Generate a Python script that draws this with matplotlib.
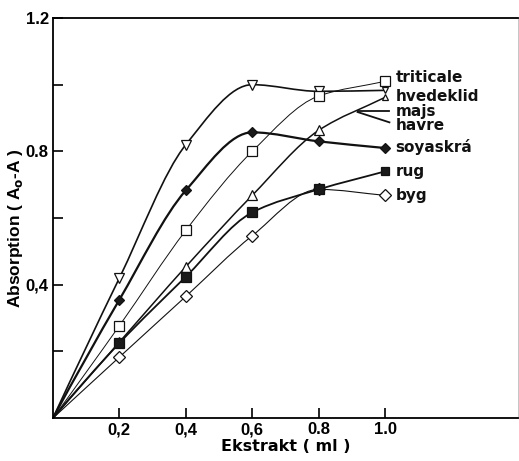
import numpy as np
import matplotlib.pyplot as plt
from matplotlib.path import Path
from matplotlib.patches import PathPatch

# values (x in ml, y = absorption)
x_ml = [0.2, 0.4, 0.6, 0.8, 1.0]
hvedeklid = [0.42, 0.82, 1.00, 0.98, 0.983]   # open triangle down
triticale = [0.277, 0.563, 0.80, 0.966, 1.01]  # open square
soyaskra = [0.355, 0.683, 0.857, 0.83, 0.81]   # filled diamond
majs_havre = [0.228, 0.454, 0.668, 0.863, 0.962]  # open triangle up
rug = [0.225, 0.424, 0.617, 0.686, 0.74]        # filled square
byg = [0.183, 0.365, 0.547, 0.686, 0.668]       # open diamond

xtick_labels = ['0,2', '0,4', '0,6', '0.8', '1.0']
ytick_labels = ['0,4', '0.8', '1.2']

plt.rcParams['font.family'] = ['Liberation Sans', 'DejaVu Sans']


def smooth_path(xs, ys):
    # monotone (pchip style) cubic through the points, starting at the origin
    x = np.array([0.0] + list(xs))
    y = np.array([0.0] + list(ys))
    h = np.diff(x)
    d = np.diff(y) / h
    m = np.zeros_like(y)
    for k in range(1, len(x) - 1):
        if d[k - 1] * d[k] > 0:
            w1 = 2 * h[k] + h[k - 1]
            w2 = h[k] + 2 * h[k - 1]
            m[k] = (w1 + w2) / (w1 / d[k - 1] + w2 / d[k])
    m[0] = ((2 * h[0] + h[1]) * d[0] - h[0] * d[1]) / (h[0] + h[1])
    if np.sign(m[0]) != np.sign(d[0]):
        m[0] = 0
    m[-1] = d[-1]
    verts = [(x[0], y[0])]
    codes = [Path.MOVETO]
    for k in range(len(x) - 1):
        verts += [(x[k] + h[k] / 3, y[k] + m[k] * h[k] / 3),
                  (x[k + 1] - h[k] / 3, y[k + 1] - m[k + 1] * h[k] / 3),
                  (x[k + 1], y[k + 1])]
        codes += [Path.CURVE4] * 3
    return Path(verts, codes)


fig = plt.figure(figsize=(5.19, 4.61), dpi=100)
ax = fig.add_axes([0.102, 0.093, 0.896, 0.868])

# (values, marker, face, line width, marker size, marker size at 1.0, zorder)
series = [
    (hvedeklid, 'v', 'white', 1.2, 7.5, 5, 3),
    (triticale, 's', 'white', 0.7, 7.5, 6.5, 3),
    (soyaskra, 'D', '#1a1a1a', 1.6, 5.5, 5.5, 3),
    (majs_havre, '^', 'white', 1.1, 7.5, 5, 3),
    (byg, 'D', 'white', 0.8, 6.5, 6.5, 3),
    (rug, 's', '#1a1a1a', 1.3, 6.5, 6, 4),
]

for ys, mk, fc, lw, ms, ms_end, z in series:
    ax.add_patch(PathPatch(smooth_path(x_ml, ys), fill=False, ec='#111111', lw=lw, zorder=2))
    ax.plot(x_ml[:-1], ys[:-1], ls='none', marker=mk, ms=ms, mfc=fc, mec='#111111', mew=0.9, zorder=z)
    ax.plot(x_ml[-1:], ys[-1:], ls='none', marker=mk, ms=ms_end, mfc=fc, mec='#111111', mew=0.9, zorder=z)

# curve labels
lab_kw = dict(fontsize=11, fontweight='bold', va='center', ha='left', color='#111111',
              family='DejaVu Sans')
ax.text(1.032, 1.022, 'triticale', **lab_kw)
ax.text(1.032, 0.966, 'hvedeklid', **lab_kw)
ax.text(1.032, 0.92, 'majs', **lab_kw)
ax.text(1.032, 0.878, 'havre', **lab_kw)
ax.text(1.032, 0.812, 'soyaskrá', **lab_kw)
ax.text(1.032, 0.74, 'rug', **lab_kw)
ax.text(1.032, 0.668, 'byg', **lab_kw)
ax.plot([1.013, 0.917], [0.92, 0.92], color='#111111', lw=1.3)
ax.plot([1.013, 0.917], [0.887, 0.918], color='#111111', lw=1.3)

ax.set_xlim(0, 1.4)
ax.set_ylim(0, 1.2)
ax.set_xticks(x_ml)
ax.set_xticklabels(xtick_labels, fontweight='bold', fontsize=12)
ax.set_yticks([0.4, 0.8, 1.2])
ax.set_yticklabels(ytick_labels, fontweight='bold', fontsize=12)
ax.set_yticks([0.2, 0.6, 1.0], minor=True)
ax.tick_params(axis='both', which='both', direction='in', length=7, width=1.2, pad=3)

for side in ['left', 'bottom', 'top']:
    ax.spines[side].set_linewidth(1.3)
ax.spines['right'].set_linewidth(0.6)
ax.spines['right'].set_color('#bbbbbb')

ax.set_xlabel('Ekstrakt ( ml )', fontsize=11.5, fontweight='bold', family='DejaVu Sans', labelpad=1)
ax.set_ylabel('Absorption ( A$_\\mathbf{o}$-A )', fontsize=12.5, fontweight='bold')
ax.yaxis.set_label_coords(-0.06, 0.475)

fig.savefig('out.png', dpi=100)
